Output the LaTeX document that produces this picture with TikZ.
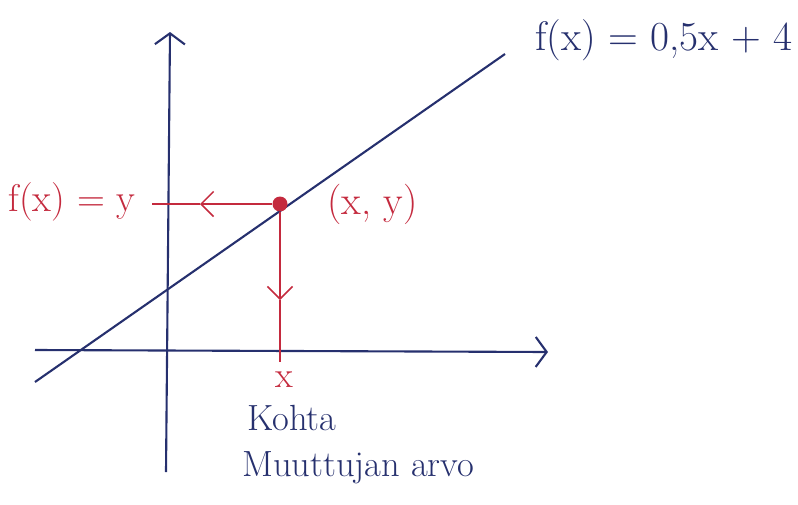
\documentclass[tikz,border=0pt]{standalone}
\usepackage{xcolor}
\usepackage{tikz}
\usetikzlibrary{arrows.meta, positioning}
\definecolor{penblue}{RGB}{38, 48, 110}
\definecolor{penred}{RGB}{196, 42, 62}

\begin{document}
\begin{tikzpicture}[
    x=0.02cm, y=-0.02cm,
    axis/.style={draw=penblue, line width=1.2pt, -{Straight Barb[length=2.2mm, width=6mm, line width=1.2pt]}},
    graph/.style={draw=penblue, line width=1.2pt},
    guide/.style={draw=penred, line width=0.9pt},
    guidetip/.style={guide, -{Straight Barb[length=2.5mm, width=5mm, line width=0.9pt]}},
    dot/.style={circle, fill=penred, inner sep=0pt, minimum size=0.3cm},
    lbl/.style={font=\huge, text=#1, inner sep=1pt}
]
    \useasboundingbox (0,0) rectangle (798,504);

    % axes
    \coordinate (ybot) at (166,472);
    \coordinate (ytop) at (170,32);
    \coordinate (xleft) at (35,350);
    \coordinate (xright) at (548,352);
    \draw[axis] (ybot) -- (ytop);
    \draw[axis] (xleft) -- (xright);

    % the line
    \coordinate (lstart) at (35,382);
    \coordinate (lend) at (505,54);
    \draw[graph] (lstart) -- (lend);

    % point and guides
    \node[dot] (pt) at (280,204) {};
    \coordinate (hmid) at (200,204);
    \coordinate (hend) at (152,204);
    \coordinate (vmid) at (280,300);
    \coordinate (vend) at (280,362);
    \draw[guidetip] (pt) -- (hmid);
    \draw[guide] (hmid) -- (hend);
    \draw[guidetip] (pt) -- (vmid);
    \draw[guide] (vmid) -- (vend);

    % labels
    \node[lbl=penred, font=\fontsize{22}{26}\selectfont] (fy) at (72,202) {f(x) = y};
    \node[lbl=penred, font=\fontsize{23}{27}\selectfont, right=0.75cm of pt] (xy) {(x, y)};
    \node[lbl=penred] (xval) at (284,380) {x};
    \node[lbl=penblue, anchor=west] (kohta) at (245,418) {Kohta};
    \node[lbl=penblue, anchor=west] (arvo) at (240,468) {Muuttujan arvo};
    \node[lbl=penblue, font=\fontsize{23.5}{28}\selectfont, anchor=west] (fx) at (533,40) {f(x) = 0,5x + 4};
\end{tikzpicture}
\end{document}
